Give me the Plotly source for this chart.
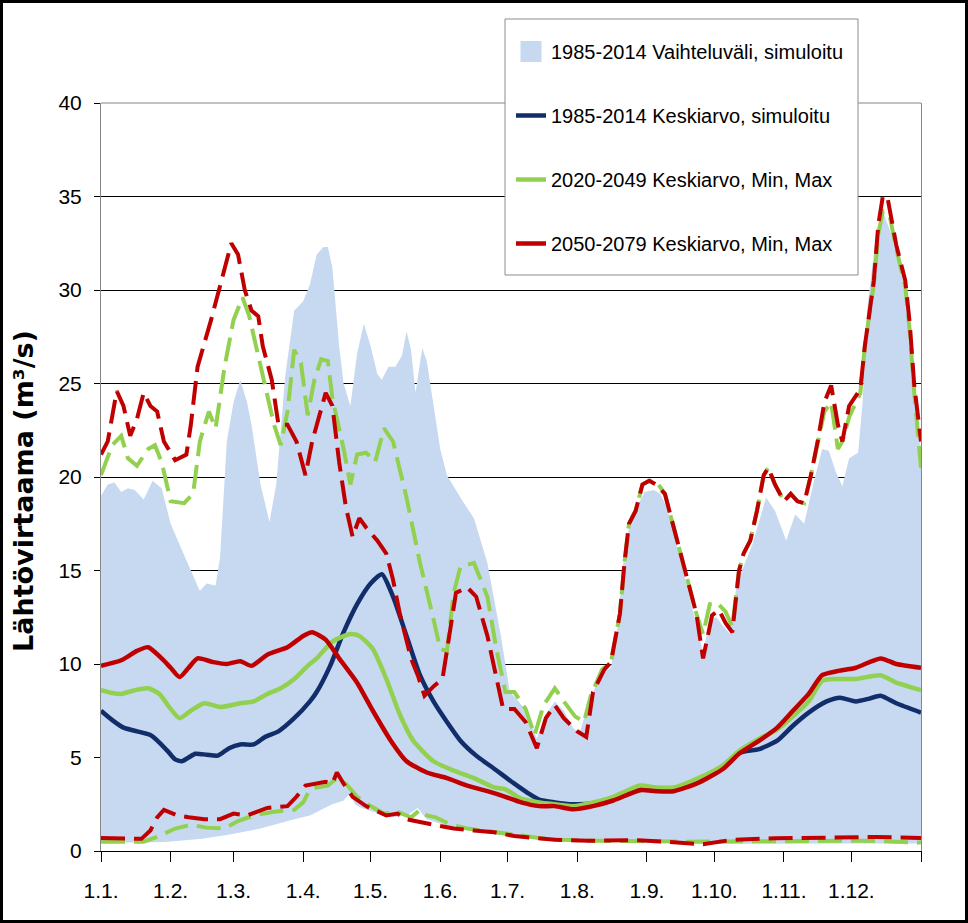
import plotly.graph_objects as go

# ---------------- data (day of year, value m3/s) ----------------
MONTH_STARTS = [0, 31, 59, 90, 120, 151, 181, 212, 243, 273, 304, 334, 365]
MONTH_LABELS = ["1.1.", "1.2.", "1.3.", "1.4.", "1.5.", "1.6.", "1.7.", "1.8.",
                "1.9.", "1.10.", "1.11.", "1.12.", ""]

RANGE_MAX_DAYS = [0, 3, 6, 9, 12, 15, 19, 23, 27, 31, 36, 40, 44, 47, 51, 53, 56, 59, 62, 65,
                  67, 71, 75, 78, 82, 86, 90, 93, 96, 99, 101, 103, 106, 108, 111, 114, 117,
                  120, 123, 125, 128, 131, 134, 136, 138, 140, 143, 145, 147, 151, 154, 161,
                  166, 172, 178, 182, 186, 190, 194, 198, 202, 206, 210, 213, 216, 219, 223,
                  227, 230, 232, 235, 238, 242, 246, 249, 252, 256, 260, 264, 268, 271, 274,
                  277, 280, 283, 286, 290, 296, 300, 305, 309, 313, 317, 321, 324, 327, 330,
                  333, 337, 339, 341, 345, 348, 353, 357, 360, 363, 365]
RANGE_MAX = [19.0, 19.6, 19.7, 19.2, 19.4, 19.3, 18.8, 19.8, 19.4, 17.5, 16.1, 15.0, 13.9, 14.3,
             14.2, 15.7, 21.9, 24.0, 25.2, 24.0, 22.8, 19.6, 17.6, 19.6, 25.4, 28.9, 29.4, 30.3,
             31.9, 32.3, 32.3, 31.2, 27.0, 25.0, 23.8, 26.6, 28.2, 27.0, 25.5, 25.2, 25.9, 25.9,
             26.5, 27.8, 26.8, 24.5, 26.9, 26.2, 24.7, 21.5, 20.1, 18.7, 17.8, 15.4, 11.5, 8.5,
             8.0, 7.3, 6.0, 7.3, 8.0, 7.5, 6.6, 6.3, 7.5, 8.5, 9.5, 9.8, 12.0, 15.0, 17.3, 18.3,
             19.2, 19.3, 19.1, 18.3, 16.5, 14.6, 12.6, 10.6, 12.4, 12.5, 12.0, 11.6, 14.3, 15.2,
             16.4, 18.9, 18.2, 16.6, 18.0, 17.5, 19.6, 21.5, 21.4, 20.3, 19.5, 21.0, 21.3, 24.0,
             28.9, 33.0, 34.2, 32.6, 30.5, 27.9, 24.2, 20.8]

RANGE_MIN_DAYS = [0, 20, 30, 45, 56, 71, 86, 93, 98, 103, 108, 111, 113, 116, 121, 130, 136,
                  141, 145, 155, 166, 178, 184, 200, 240, 270, 300, 330, 365]
RANGE_MIN = [0.45, 0.45, 0.5, 0.65, 0.85, 1.2, 1.7, 1.9, 2.2, 2.5, 2.7, 3.1, 2.5, 2.3, 2.1,
             1.8, 1.9, 2.3, 1.7, 1.3, 1.1, 0.85, 0.75, 0.6, 0.45, 0.38, 0.4, 0.4, 0.4]

BASE_MEAN_DAYS = [0, 5, 10, 16, 22, 26, 30, 33, 36, 39, 42, 47, 52, 57, 62, 68, 73, 79, 86, 93,
                  96, 102, 108, 114, 120, 125, 130, 136, 142, 148, 154, 160, 167, 175, 184,
                  190, 195, 202, 210, 219, 228, 240, 247, 255, 266, 277, 284, 293, 301, 308,
                  315, 323, 329, 336, 342, 347, 354, 365]
BASE_MEAN = [7.5, 7.0, 6.6, 6.4, 6.2, 5.8, 5.3, 4.9, 4.8, 5.0, 5.2, 5.15, 5.1, 5.5, 5.7, 5.7,
             6.1, 6.4, 7.1, 8.0, 8.5, 9.9, 11.7, 13.2, 14.3, 14.8, 13.6, 11.5, 9.4, 8.0, 6.9,
             5.9, 5.1, 4.4, 3.6, 3.1, 2.75, 2.6, 2.5, 2.55, 2.85, 3.45, 3.35, 3.35, 3.85, 4.55,
             5.25, 5.45, 5.9, 6.7, 7.4, 8.0, 8.2, 8.0, 8.15, 8.3, 7.9, 7.4]

P1_DAYS = [0, 5, 9, 15, 21, 26, 31, 35, 40, 46, 53, 62, 68, 74, 80, 86, 92, 96, 103, 111, 115,
           121, 127, 133, 139, 148, 157, 166, 175, 180, 187, 195, 202, 210, 219, 228, 240, 247,
           255, 266, 277, 284, 293, 301, 308, 315, 321, 327, 336, 347, 354, 365]
P1_MEAN = [8.6, 8.45, 8.4, 8.6, 8.7, 8.4, 7.6, 7.1, 7.5, 7.9, 7.7, 7.9, 8.0, 8.4, 8.7, 9.2, 9.9,
           10.3, 11.2, 11.6, 11.5, 10.8, 9.2, 7.3, 5.9, 4.8, 4.3, 3.9, 3.4, 3.3, 2.8, 2.6, 2.5,
           2.4, 2.6, 2.9, 3.5, 3.4, 3.4, 3.9, 4.6, 5.35, 6.0, 6.5, 7.2, 8.0, 9.1, 9.2, 9.2, 9.4,
           9.0, 8.6]

P1_MAX_DAYS = [0, 2, 5, 9, 12, 16, 21, 24, 27, 31, 37, 41, 44, 48, 51, 55, 59, 63, 66, 69, 73,
               77, 80, 83, 86, 89, 92, 95, 98, 101, 103, 108, 111, 114, 118, 122, 126, 130, 136,
               142, 148, 151, 154, 157, 160, 166, 172, 176, 180, 184, 189, 193, 197, 202, 206,
               211, 215, 218, 223, 227, 231, 233, 235, 238, 241, 244, 247, 251, 256, 260, 265,
               268, 271, 274, 278, 281, 284, 286, 289, 292, 295, 297, 300, 304, 307, 310, 313,
               316, 319, 322, 325, 328, 330, 333, 338, 340, 344, 346, 348, 351, 354, 358, 360,
               362, 365]
P1_MAX = [20.1, 20.8, 21.7, 22.2, 21.0, 20.6, 21.5, 21.7, 20.8, 18.7, 18.6, 19.1, 21.9, 23.5,
          22.6, 25.9, 28.4, 29.6, 28.6, 27.0, 24.9, 22.8, 21.7, 23.5, 26.8, 26.1, 23.3, 25.2,
          26.3, 26.2, 24.2, 21.5, 19.6, 21.2, 21.3, 20.8, 22.6, 21.9, 18.9, 15.4, 12.4, 10.8,
          10.7, 13.8, 15.2, 15.4, 13.6, 10.8, 8.5, 8.5, 7.6, 6.2, 7.8, 8.7, 8.0, 7.2, 6.9, 8.3,
          9.7, 10.1, 12.7, 15.4, 17.5, 18.2, 19.6, 19.8, 19.8, 19.1, 16.8, 15.0, 12.7, 11.6,
          13.2, 13.3, 12.8, 12.0, 15.0, 15.9, 16.6, 18.2, 20.1, 20.5, 19.6, 18.7, 19.1, 18.7,
          18.6, 20.1, 21.9, 23.5, 24.0, 21.5, 21.9, 23.2, 24.5, 27.0, 30.3, 33.0, 34.2, 34.0,
          32.2, 30.2, 27.8, 24.5, 20.5]

P1_MIN_DAYS = [0, 19, 25, 33, 40, 47, 55, 61, 68, 77, 86, 90, 93, 96, 101, 105, 109, 114, 120,
               126, 132, 138, 142, 145, 149, 156, 163, 169, 178, 184, 195, 205, 220, 260, 300,
               340, 365]
P1_MIN = [0.5, 0.5, 0.75, 1.2, 1.4, 1.25, 1.2, 1.6, 1.9, 2.1, 2.2, 2.6, 3.3, 3.4, 3.5, 3.9, 3.6,
          2.9, 2.4, 2.0, 2.1, 1.8, 2.2, 1.9, 1.8, 1.4, 1.2, 1.1, 1.0, 0.85, 0.7, 0.6, 0.55, 0.5,
          0.55, 0.55, 0.45]

P2_DAYS = [0, 9, 16, 21, 27, 31, 35, 39, 43, 50, 56, 62, 67, 74, 83, 90, 94, 100, 106, 114,
           121, 129, 136, 145, 154, 163, 172, 180, 187, 195, 202, 210, 219, 228, 240, 247, 255,
           266, 277, 284, 293, 301, 308, 315, 321, 327, 336, 347, 354, 365]
P2_MEAN = [9.9, 10.2, 10.7, 10.9, 10.3, 9.8, 9.3, 9.8, 10.3, 10.1, 10.0, 10.15, 9.9, 10.5, 10.9,
           11.5, 11.7, 11.3, 10.3, 9.0, 7.5, 5.9, 4.8, 4.2, 3.9, 3.5, 3.2, 2.9, 2.6, 2.4, 2.4,
           2.23, 2.4, 2.7, 3.25, 3.2, 3.2, 3.65, 4.4, 5.2, 5.9, 6.6, 7.5, 8.4, 9.4, 9.6, 9.8,
           10.3, 10.0, 9.8]

P2_MAX_DAYS = [0, 3, 7, 10, 13, 16, 19, 22, 25, 28, 33, 38, 40, 43, 49, 53, 58, 61, 64, 67, 70,
               72, 76, 79, 83, 87, 91, 94, 97, 100, 103, 106, 109, 112, 115, 118, 123, 127, 130,
               133, 138, 141, 144, 148, 152, 155, 158, 163, 167, 172, 176, 179, 184, 189, 194,
               198, 202, 206, 212, 216, 219, 224, 227, 231, 233, 235, 238, 241, 244, 247, 251,
               256, 260, 265, 268, 272, 275, 278, 281, 284, 286, 289, 292, 295, 297, 300, 304,
               307, 310, 313, 316, 319, 322, 325, 328, 330, 333, 338, 340, 344, 346, 348, 350,
               354, 358, 360, 362, 365]
P2_MAX = [21.2, 21.9, 24.6, 23.8, 22.2, 23.1, 24.5, 23.8, 23.5, 21.9, 20.9, 21.2, 22.8, 25.9,
          28.4, 30.3, 32.5, 31.9, 30.0, 28.9, 28.6, 27.0, 25.2, 22.8, 22.8, 21.9, 20.1, 21.9,
          23.3, 24.5, 23.8, 20.8, 18.4, 16.8, 17.8, 17.3, 16.6, 15.9, 14.5, 12.7, 10.3, 9.4,
          8.3, 8.8, 9.2, 11.5, 13.8, 14.1, 13.6, 11.5, 9.2, 7.6, 7.6, 6.9, 5.5, 7.1, 7.8, 7.1,
          6.4, 6.1, 8.5, 9.7, 10.1, 12.7, 15.4, 17.5, 18.2, 19.6, 19.8, 19.6, 19.1, 16.8, 15.0,
          12.7, 10.3, 12.6, 12.9, 12.2, 11.7, 15.0, 15.9, 16.6, 18.2, 20.1, 20.5, 19.6, 18.7,
          19.1, 18.7, 18.6, 20.1, 21.9, 24.0, 24.9, 22.8, 21.9, 23.8, 24.7, 27.0, 30.5, 33.5,
          35.0, 35.0, 32.4, 30.5, 28.2, 24.9, 21.9]

P2_MIN_DAYS = [0, 10, 18, 22, 25, 28, 34, 39, 46, 53, 59, 65, 74, 83, 87, 91, 96, 100, 103, 105,
               108, 112, 118, 124, 127, 132, 136, 142, 148, 157, 166, 175, 184, 195, 202, 217,
               239, 251, 268, 281, 300, 345, 365]
P2_MIN = [0.7, 0.7, 0.65, 1.1, 1.8, 2.2, 1.9, 1.8, 1.7, 1.7, 2.0, 1.9, 2.3, 2.4, 2.9, 3.5, 3.6,
          3.7, 3.6, 4.2, 3.6, 2.9, 2.4, 2.1, 1.9, 2.0, 1.7, 1.55, 1.4, 1.2, 1.1, 1.0, 0.8, 0.67,
          0.6, 0.55, 0.58, 0.5, 0.36, 0.6, 0.68, 0.75, 0.7]

NAMES = ["1985-2014 Vaihteluväli, simuloitu", "1985-2014 Keskiarvo, simuloitu",
         "2020-2049 Keskiarvo, Min, Max", "2050-2079 Keskiarvo, Min, Max"]
Y_TITLE = "Lähtövirtaama (m³/s)"

# ---------------- styles ----------------
FILL_C = "#C6D9F1"
BLUE_C = "#122E6A"
GREEN_C = "#92D050"
RED_C = "#C00000"
SANS = "Liberation Sans, Arial, sans-serif"
DASH = "24px,9px"

W, H = 968, 923
L, R, T, B = 101, 47, 103, 72
PW, PH = W - L - R, H - T - B


def px_x(p):
    return (p - L) / PW


def px_y(p):
    return (H - B - p) / PH


fig = go.Figure()

# variation range as a closed polygon
fig.add_trace(go.Scatter(
    x=RANGE_MAX_DAYS + RANGE_MIN_DAYS[::-1],
    y=RANGE_MAX + RANGE_MIN[::-1],
    fill="toself", fillcolor=FILL_C, mode="lines", line=dict(width=0, color=FILL_C),
    showlegend=False, hoverinfo="skip"))
# legend entry for the range
fig.add_trace(go.Scatter(
    x=[None], y=[None], mode="markers", name=NAMES[0], legendgroup="g0",
    marker=dict(symbol="square", size=16, color=FILL_C, line=dict(color=FILL_C, width=5))))

fig.add_trace(go.Scatter(x=BASE_MEAN_DAYS, y=BASE_MEAN, mode="lines", name=NAMES[1],
                         legendgroup="g1",
                         line=dict(color=BLUE_C, width=4.5, shape="spline", smoothing=0.6)))

for days, vals in [(P1_MAX_DAYS, P1_MAX), (P1_MIN_DAYS, P1_MIN)]:
    fig.add_trace(go.Scatter(x=days, y=vals, mode="lines", showlegend=False, legendgroup="g2",
                             line=dict(color=GREEN_C, width=4, dash=DASH)))
fig.add_trace(go.Scatter(x=P1_DAYS, y=P1_MEAN, mode="lines", name=NAMES[2], legendgroup="g2",
                         line=dict(color=GREEN_C, width=4.5, shape="spline", smoothing=0.6)))

for days, vals in [(P2_MAX_DAYS, P2_MAX), (P2_MIN_DAYS, P2_MIN)]:
    fig.add_trace(go.Scatter(x=days, y=vals, mode="lines", showlegend=False, legendgroup="g3",
                             line=dict(color=RED_C, width=4, dash=DASH)))
fig.add_trace(go.Scatter(x=P2_DAYS, y=P2_MEAN, mode="lines", name=NAMES[3], legendgroup="g3",
                         line=dict(color=RED_C, width=4.5, shape="spline", smoothing=0.6)))

fig.update_layout(
    width=W, height=H,
    margin=dict(l=L, r=R, t=T, b=B),
    paper_bgcolor="white", plot_bgcolor="white",
    showlegend=True,
    legend=dict(x=px_x(511), y=px_y(32), xanchor="left", yanchor="top",
                bgcolor="rgba(0,0,0,0)", borderwidth=0,
                font=dict(family=SANS, size=20, color="black"),
                traceorder="grouped", tracegroupgap=35),
    xaxis=dict(range=[0, 365], tickvals=MONTH_STARTS, ticktext=MONTH_LABELS,
               showgrid=False, zeroline=False, showline=True, linecolor="black", linewidth=1,
               ticks="outside", ticklen=10, tickcolor="black", tickwidth=1,
               ticklabelstandoff=11,
               tickfont=dict(family=SANS, size=21, color="black")),
    yaxis=dict(range=[0, 40], tick0=0, dtick=5, showgrid=True, gridcolor="black", gridwidth=1,
               zeroline=False, showline=True, linecolor="#868686", linewidth=1, mirror=True,
               ticks="outside", ticklen=6, tickcolor="black", tickwidth=1,
               ticklabelstandoff=8,
               tickfont=dict(family=SANS, size=21, color="black")),
    annotations=[dict(text=f"<b>{Y_TITLE}</b>", textangle=-90, showarrow=False,
                      xref="paper", yref="paper", x=px_x(23), y=px_y(491),
                      xanchor="center", yanchor="middle",
                      font=dict(family="DejaVu Sans", size=27, color="black"))],
    shapes=[
        dict(type="line", xref="paper", yref="paper", x0=0, x1=1, y0=1, y1=1,
             line=dict(color="#868686", width=1), layer="above"),
        dict(type="rect", xref="paper", yref="paper", x0=px_x(505), x1=px_x(858),
             y0=px_y(275), y1=px_y(19), fillcolor="white",
             line=dict(color="#8C8C8C", width=1), layer="above"),
        dict(type="rect", xref="paper", yref="paper", x0=px_x(1.5), x1=px_x(966.5),
             y0=px_y(921.5), y1=px_y(1.5), line=dict(color="black", width=3), layer="above"),
    ],
)

fig.write_html("out.html", config={"displayModeBar": False},
               post_script="document.body.style.margin='0';document.body.style.padding='0';")
